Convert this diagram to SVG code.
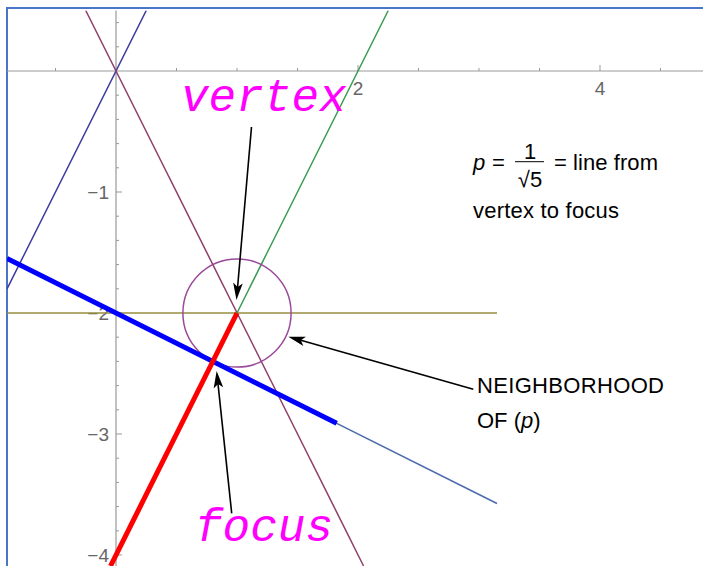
<svg xmlns="http://www.w3.org/2000/svg" width="703" height="566" viewBox="0 0 703 566">
<style>
.ax{stroke:#999;stroke-width:1.2;fill:none}
.tk{stroke:#999;stroke-width:1;fill:none}
.tl{font-family:"Liberation Sans",Arial,sans-serif;font-size:19px;fill:#666}
.ln{fill:none;stroke-width:1.5}
.lbl{font-family:"Liberation Mono","Courier New",monospace;font-style:italic;font-size:46px;fill:#FF00FF}
.txt{font-family:"Liberation Sans",Arial,sans-serif;font-size:22px;fill:#000}
.arr{stroke:#000;stroke-width:1.6;fill:none;marker-end:url(#ah)}
</style>
<defs>
<marker id="ah" markerUnits="userSpaceOnUse" viewBox="-18 -6 19 12" markerWidth="19" markerHeight="12" refX="-13" refY="0" orient="auto">
<path d="M0,0 L-17,-4.8 L-13,0 L-17,4.8 Z" fill="#000"/>
</marker>
<clipPath id="plot"><rect x="7" y="10.5" width="696" height="556"/></clipPath>
</defs>
<rect width="703" height="566" fill="#fff"/>
<g id="frame">
<path d="M7,566 V8 H703" fill="none" stroke="#4A74C8" stroke-width="2"/>
</g>
<g id="axes">
<path class="ax" d="M7,71 H703 M116,10.5 V566"/>
<path class="tk" d="M55.5,71 v-3 M176.5,71 v-3 M237,71 v-3 M297.5,71 v-3 M358,71 v-6 M418.5,71 v-3 M479,71 v-3 M539.5,71 v-3 M600,71 v-6 M660.5,71 v-3"/>
<path class="tk" d="M116,22.6 h3 M116,46.8 h3 M116,95.2 h3 M116,119.4 h3 M116,143.6 h3 M116,167.8 h3 M116,192 h6 M116,216.2 h3 M116,240.4 h3 M116,264.6 h3 M116,288.8 h3 M116,313 h6 M116,337.2 h3 M116,361.4 h3 M116,385.6 h3 M116,409.8 h3 M116,434 h6 M116,458.2 h3 M116,482.4 h3 M116,506.6 h3 M116,530.8 h3 M116,555 h6"/>
<text class="tl" x="358" y="95" text-anchor="middle">2</text>
<text class="tl" x="600" y="95" text-anchor="middle">4</text>
<text class="tl" x="109" y="199" text-anchor="end">−1</text>
<text class="tl" x="109" y="320" text-anchor="end">−2</text>
<text class="tl" x="109" y="441" text-anchor="end">−3</text>
<text class="tl" x="109" y="562" text-anchor="end">−4</text>
</g>
<g id="curves" clip-path="url(#plot)">
<line class="ln" x1="146.25" y1="10.5" x2="7" y2="289" stroke="#3A3A9A"/>
<line class="ln" x1="85.75" y1="10.5" x2="363.6" y2="566" stroke="#8F3F6B"/>
<line class="ln" x1="7" y1="313" x2="497" y2="313" stroke="#978E3E"/>
<line class="ln" x1="237" y1="313" x2="388.25" y2="10.5" stroke="#3D9A55"/>
<circle class="ln" cx="237" cy="313" r="54.1" stroke="#9A4A9A"/>
<line class="ln" x1="7" y1="258.5" x2="497" y2="503.5" stroke="#4A6AAC"/>
<line x1="7" y1="258.5" x2="336.7" y2="423.3" stroke="#0000FF" stroke-width="5"/>
<line x1="237" y1="313" x2="110.5" y2="566" stroke="#FF0000" stroke-width="5"/>
</g>
<g id="connectors">
<line class="arr" x1="251.5" y1="127" x2="237.6" y2="287"/>
<line class="arr" x1="231.7" y1="513.3" x2="218" y2="383.9"/>
<line class="arr" x1="473.3" y1="389.3" x2="300.8" y2="340.3"/>
</g>
<g id="vertex-label">
<text class="lbl" x="181" y="111">vertex</text>
</g>
<g id="focus-label">
<text class="lbl" x="195" y="541">focus</text>
</g>
<g id="p-note">
<text class="txt" x="473" y="170" font-style="italic">p</text>
<text class="txt" x="492" y="170">=</text>
<text class="txt" x="530" y="159" text-anchor="middle" font-size="16">1</text>
<line x1="515" y1="161.7" x2="544" y2="161.7" stroke="#000" stroke-width="1"/>
<text class="txt" x="530" y="187" text-anchor="middle" font-size="16">√5</text>
<text class="txt" x="554" y="170" textLength="104" lengthAdjust="spacing">= line from</text>
<text class="txt" x="473" y="218" textLength="146" lengthAdjust="spacing">vertex to focus</text>
</g>
<g id="neighborhood-label">
<text class="txt" x="477" y="393" textLength="187" lengthAdjust="spacing">NEIGHBORHOOD</text>
<text class="txt" x="477" y="428">OF (<tspan font-style="italic">p</tspan>)</text>
</g>
</svg>
